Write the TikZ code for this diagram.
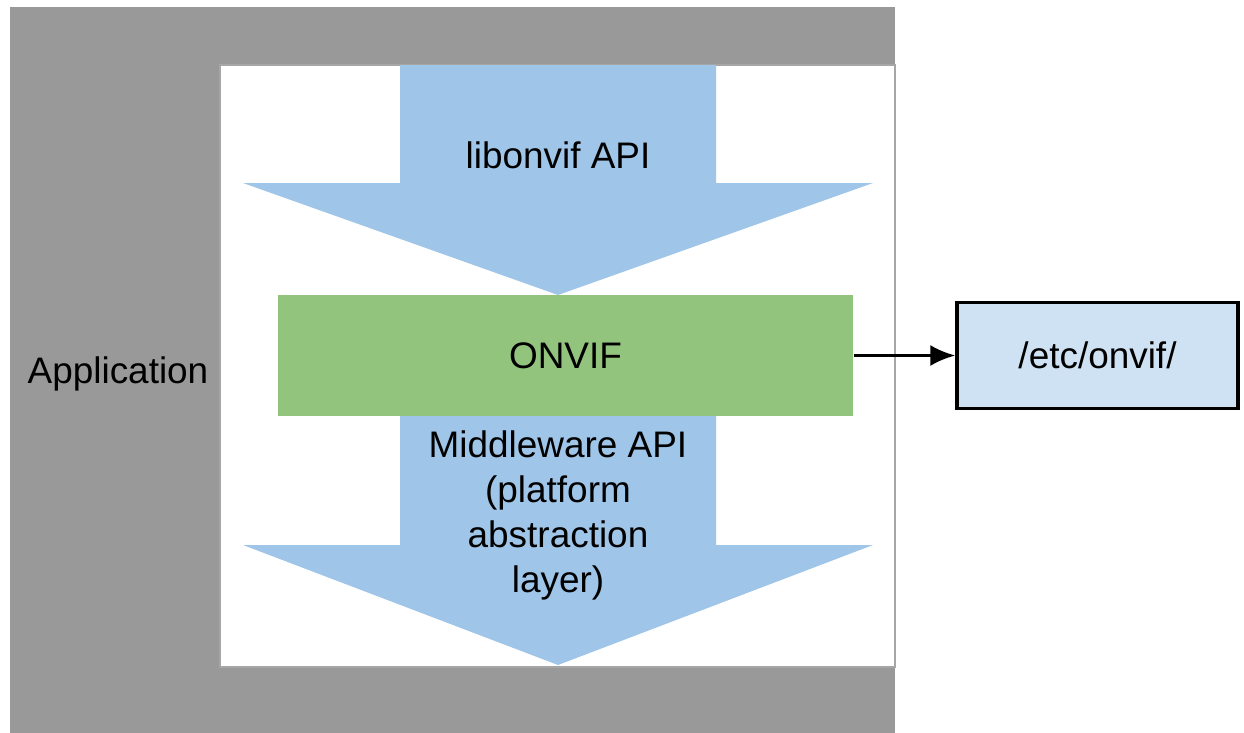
\documentclass[tikz,border=0pt]{standalone}
\usepackage{fontspec}
\setmainfont{Liberation Sans}
\usetikzlibrary{arrows.meta}
\definecolor{appgray}{HTML}{999999}
\definecolor{arrowblue}{HTML}{9FC5E8}
\definecolor{onvifgreen}{HTML}{93C47D}
\definecolor{boxblue}{HTML}{CFE2F3}
\tikzset{
  lbl/.style={font=\fontsize{10.5}{12.6}\selectfont, text=black, align=center, inner sep=0pt},
  bigarrow/.style={fill=arrowblue, draw=none},
}
\begin{document}
\begin{tikzpicture}[x=0.01cm, y=-0.01cm]
\useasboundingbox (0,0) rectangle (1244,733);
% application region
\fill[appgray] (10,7) rectangle (895,733);
\filldraw[fill=white, draw=black!35, line width=0.4pt] (220,65) rectangle (895,667);
% top arrow
\fill[bigarrow] (400,65) -- (716,65) -- (716,183) -- (873,183) -- (558,295) -- (243,183) -- (400,183) -- cycle;
% bottom arrow
\fill[bigarrow] (400,416) -- (716,416) -- (716,545) -- (873,545) -- (558,665) -- (243,545) -- (400,545) -- cycle;
% nodes
\node[lbl] (app) at (118,374) {Application};
\node[lbl] (lib) at (558,155) {libonvif API};
\node[lbl, fill=onvifgreen, minimum width=5.75cm, minimum height=1.21cm] (onvif) at (565.5,355.5) {ONVIF};
\node[lbl, text depth=0pt] (mw) at (558,512) {Middleware API\\[0.2pt](platform\\[0.2pt]abstraction\\[0.2pt]layer)};
\node[lbl, fill=boxblue, draw=black, line width=0.9pt, minimum width=2.81cm, minimum height=1.06cm] (etc) at (1097.5,355.5) {/etc/onvif/};
% connector
\draw[line width=0.85pt, -{Latex[length=0.25cm, width=0.21cm]}] (onvif.east) -- (etc.west);
\end{tikzpicture}
\end{document}
